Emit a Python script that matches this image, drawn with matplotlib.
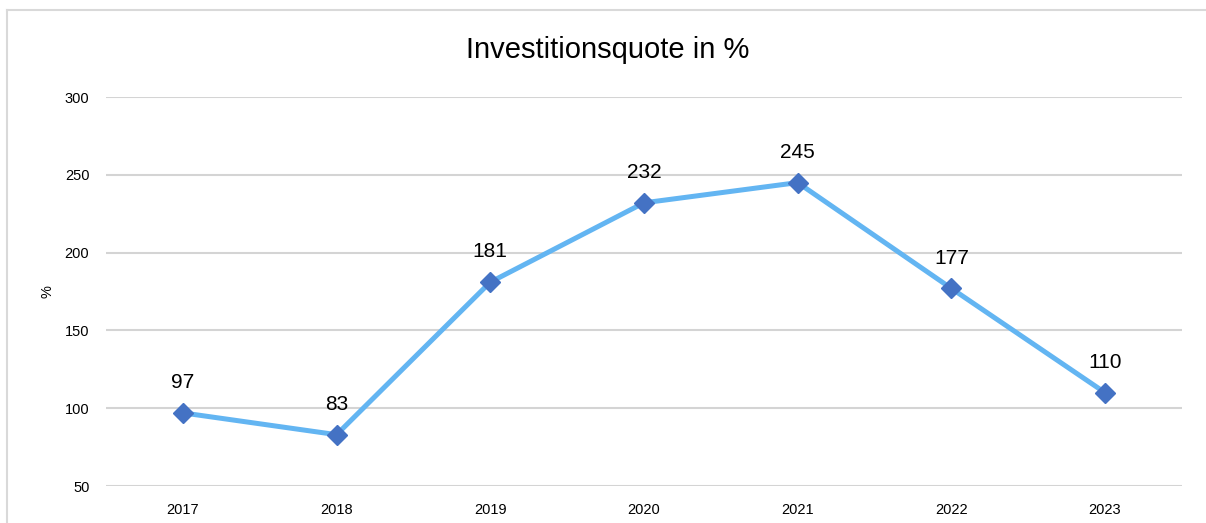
import matplotlib.pyplot as plt
from matplotlib.lines import Line2D

plt.rcParams['font.family'] = ['Liberation Sans', 'DejaVu Sans']

years = ['2017', '2018', '2019', '2020', '2021', '2022', '2023']
quote = [97, 83, 181, 232, 245, 177, 110]
yticks = [50, 100, 150, 200, 250, 300]

fig = plt.figure(figsize=(12.06, 5.23), dpi=100)
ax = fig.add_axes([0.0879, 0.0707, 0.8921, 0.7438])

x = range(len(years))
ax.plot(x, quote, color='#63B5F2', linewidth=3.6, marker='D', markersize=10,
        markerfacecolor='#4472C4', markeredgecolor='#4472C4', zorder=3)
for xi, v in zip(x, quote):
    ax.annotate(str(v), (xi, v), xytext=(0, 15), textcoords='offset points',
                ha='center', va='bottom', fontsize=15, color='#000000')

ax.set_xlim(-0.5, len(years) - 0.5)
ax.set_ylim(50, 300)
ax.set_yticks(yticks)
ax.set_xticks(list(x))
ax.set_xticklabels(years)
ax.grid(axis='y', color='#D4D4D4', linewidth=1.5)
ax.set_axisbelow(True)
for s in ax.spines.values():
    s.set_visible(False)
ax.tick_params(axis='both', length=0, labelsize=10.5, colors='#000000')
ax.tick_params(axis='x', pad=12)
ax.tick_params(axis='y', pad=12)
ax.set_ylabel('%', fontsize=10.5, labelpad=7)

fig.text(0.504, 0.905, 'Investitionsquote in %', ha='center', va='center', fontsize=21)

# outer chart frame (cropped at right and bottom)
fig.add_artist(Line2D([7 / 1206, 7 / 1206], [0, 1 - 10 / 523], color='#D9D9D9', linewidth=1.5))
fig.add_artist(Line2D([7 / 1206, 1], [1 - 10 / 523, 1 - 10 / 523], color='#D9D9D9', linewidth=1.5))

fig.savefig('out.png', dpi=100)
